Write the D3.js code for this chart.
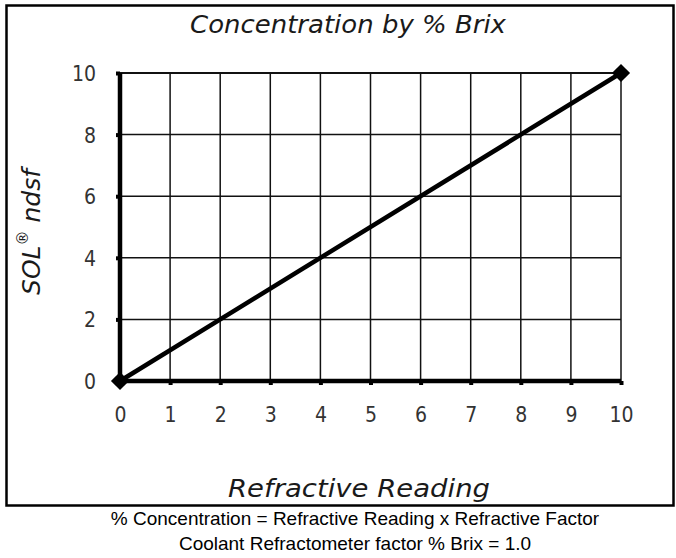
<!DOCTYPE html>
<html>
<head>
<meta charset="utf-8">
<script src="https://cdn.jsdelivr.net/npm/d3@7"></script>
<style>
  html, body { margin: 0; padding: 0; background: #fff; }
  svg { display: block; }
  .tick text { font-family: "Liberation Sans Narrow", "DejaVu Sans Condensed", sans-serif; font-size: 21px; fill: #333; }
  .axis path, .axis line { stroke: #000; }
</style>
</head>
<body>
<script>
// Chart values
const readings = [0, 10];          // refractive reading (% Brix)
const concentration = [0, 10];     // SOL ndsf concentration
const xTickValues = [0, 1, 2, 3, 4, 5, 6, 7, 8, 9, 10];
const yTickValues = [0, 2, 4, 6, 8, 10];
const titleText = 'Concentration by % Brix';
const xTitle = 'Refractive Reading';
const footerLines = [
  '% Concentration = Refractive Reading x Refractive Factor',
  'Coolant Refractometer factor % Brix = 1.0'
];

const WIDTH = 676;
const HEIGHT = 558;

const svg = d3.select('body').append('svg')
  .attr('width', WIDTH)
  .attr('height', HEIGHT);

// outer frame
svg.append('rect')
  .attr('x', 6.5).attr('y', 5.5)
  .attr('width', 667).attr('height', 500)
  .attr('fill', 'none')
  .attr('stroke', '#000')
  .attr('stroke-width', 2.5);

const margin = {top: 73, left: 120};
const width = 501, height = 308;

const g = svg.append('g')
  .attr('transform', 'translate(' + margin.left + ',' + margin.top + ')');

const xScale = d3.scaleLinear().domain([0, 10]).range([0, width]);
const yScale = d3.scaleLinear().domain([0, 10]).range([height, 0]);

// grid
g.append('g').selectAll('line')
  .data(xTickValues.slice(1))
  .join('line')
  .attr('x1', d => xScale(d)).attr('x2', d => xScale(d))
  .attr('y1', yScale(10)).attr('y2', yScale(0))
  .attr('stroke', '#111').attr('stroke-width', 1.5);

g.append('g').selectAll('line')
  .data(yTickValues.slice(1))
  .join('line')
  .attr('x1', xScale(0)).attr('x2', xScale(10))
  .attr('y1', d => yScale(d)).attr('y2', d => yScale(d))
  .attr('stroke', '#111').attr('stroke-width', d => d === 10 ? 2.2 : 1.5);

// axes
const xAxis = d3.axisBottom(xScale).tickValues(xTickValues).tickSize(4).tickPadding(22);
const yAxis = d3.axisLeft(yScale).tickValues(yTickValues).tickSize(4).tickPadding(20);

const gx = g.append('g').attr('class', 'x axis')
  .attr('transform', 'translate(0,' + height + ')')
  .call(xAxis);
gx.select('.domain').attr('stroke-width', 4.5).attr('d', 'M0,0H' + width);
gx.selectAll('.tick line').attr('stroke-width', 4);

const gy = g.append('g').attr('class', 'y axis').call(yAxis);
gy.select('.domain').attr('stroke-width', 4.5).attr('d', 'M0,' + height + 'V0');
gy.selectAll('.tick line').attr('stroke-width', 4);
gy.selectAll('.tick text').attr('dy', '0.36em');

// data line
const pts = readings.map((r, i) => ({x: r, y: concentration[i]}));
const line = d3.line().x(d => xScale(d.x)).y(d => yScale(d.y));
g.append('path')
  .datum(pts)
  .attr('d', line)
  .attr('fill', 'none')
  .attr('stroke', '#000')
  .attr('stroke-width', 4.5);

g.selectAll('.marker')
  .data(pts)
  .join('path')
  .attr('class', 'marker')
  .attr('d', d3.symbol(d3.symbolDiamond2, 210))
  .attr('transform', d => 'translate(' + xScale(d.x) + ',' + yScale(d.y) + ')')
  .attr('fill', '#000');

// titles
const italicFont = '"DejaVu Sans", Verdana, sans-serif';

svg.append('text')
  .attr('x', 348).attr('y', 33)
  .attr('text-anchor', 'middle')
  .attr('font-family', italicFont)
  .attr('font-style', 'italic')
  .attr('font-size', 25)
  .attr('fill', '#1a1a1a')
  .attr('textLength', 316)
  .attr('lengthAdjust', 'spacingAndGlyphs')
  .text(titleText);

svg.append('text')
  .attr('x', 359).attr('y', 497)
  .attr('text-anchor', 'middle')
  .attr('font-family', italicFont)
  .attr('font-style', 'italic')
  .attr('font-size', 25)
  .attr('fill', '#1a1a1a')
  .attr('textLength', 262)
  .attr('lengthAdjust', 'spacingAndGlyphs')
  .text(xTitle);

const yT = svg.append('text')
  .attr('transform', 'translate(40,232) rotate(-90)')
  .attr('text-anchor', 'middle')
  .attr('font-family', italicFont)
  .attr('font-style', 'italic')
  .attr('font-size', 25)
  .attr('fill', '#1a1a1a');
yT.append('tspan').text('SOL');
yT.append('tspan').attr('font-size', 15).attr('dy', -12).text('®');
yT.append('tspan').attr('dy', 12).text(' ndsf');

svg.selectAll('.footer')
  .data(footerLines)
  .join('text')
  .attr('class', 'footer')
  .attr('x', 355)
  .attr('y', (d, i) => 525 + i * 25)
  .attr('text-anchor', 'middle')
  .attr('font-family', '"Liberation Sans", Arial, sans-serif')
  .attr('font-size', 19)
  .attr('fill', '#000')
  .text(d => d);
</script>
</body>
</html>
